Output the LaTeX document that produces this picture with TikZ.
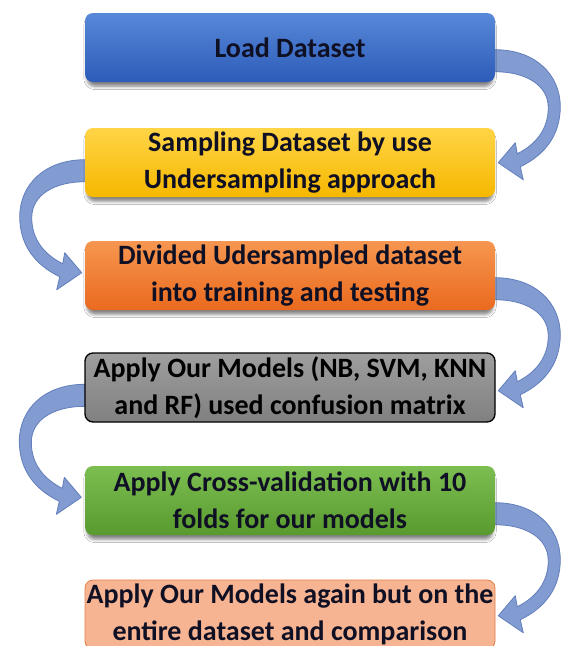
\documentclass[tikz,border=0pt]{standalone}
\usepackage{fontspec}
\setmainfont{Carlito}
\usetikzlibrary{shadows.blur}
\pgfdeclarelayer{background}
\pgfsetlayers{background,main}

\definecolor{txtdark}{RGB}{16,16,36}
\definecolor{arrowfill}{RGB}{130,156,210}
\definecolor{arrowline}{RGB}{98,126,188}

\tikzset{
  stepbox/.style={rounded corners=6pt, minimum width=307.5pt, minimum height=51.75pt,
    inner sep=0pt, align=center, text=txtdark,
    font=\fontsize{21}{27.5}\selectfont\bfseries},
  softshadow/.style={blur shadow={shadow xshift=0pt, shadow yshift=-3.5pt,
    shadow scale=0.99, shadow blur radius=2.5pt, shadow opacity=50}},
  bendarrow/.style={fill=arrowfill, draw=arrowline, line width=0.6pt, line join=round},
}

% curved block arrow, drawn in local pixel units from a box corner
\newcommand{\bendpath}{%
  (-6,37) -- (0,37) .. controls (40,37) and (65,62) .. (65,94)
  .. controls (65,122) and (50,142) .. (25,154) -- (28,167) -- (3,150)
  -- (20,130) -- (22,141) .. controls (40,132) and (53,117) .. (53,95)
  .. controls (53,72) and (30,59) .. (0,59) -- (-6,59) -- cycle}

\begin{document}
\begin{tikzpicture}[x=0.75pt, y=-0.75pt]
  \clip (0,0) rectangle (561,646);

  \node[stepbox, softshadow, top color={rgb,255:red,88;green,136;blue,216},
        bottom color={rgb,255:red,44;green,92;blue,184}] (b1) at (290,47.5)
        {Load Dataset};
  \node[stepbox, softshadow, top color={rgb,255:red,255;green,212;blue,70},
        bottom color={rgb,255:red,246;green,184;blue,0}] (b2) at (290,162.5)
        {Sampling Dataset by use\\Undersampling approach};
  \node[stepbox, softshadow, top color={rgb,255:red,246;green,150;blue,80},
        bottom color={rgb,255:red,234;green,106;blue,30}] (b3) at (290,275.5)
        {Divided Udersampled dataset\\into training and testing};
  \node[stepbox, draw=black, line width=1pt, text=black,
        top color={rgb,255:red,158;green,158;blue,158},
        bottom color={rgb,255:red,128;green,128;blue,128}] (b4) at (290,387.5)
        {Apply Our Models (NB, SVM, KNN\\and RF) used confusion matrix};
  \node[stepbox, softshadow, top color={rgb,255:red,124;green,190;blue,80},
        bottom color={rgb,255:red,88;green,154;blue,46}] (b5) at (290,500.5)
        {Apply Cross-validation with 10\\folds for our models};
  \node[stepbox, draw={rgb,255:red,226;green,128;blue,72}, line width=0.6pt,
        fill={rgb,255:red,246;green,180;blue,146}] (b6) at (290,614.5)
        {Apply Our Models again but on the\\entire dataset and comparison};

  \begin{pgfonlayer}{background}
    \fill[white] (0,0) rectangle (561,646);
    % right-hand bends
    \begin{scope}[shift={(b1.north east)}]
      \path[bendarrow] \bendpath;
    \end{scope}
    \begin{scope}[shift={(b3.north east)}]
      \path[bendarrow] \bendpath;
    \end{scope}
    \begin{scope}[shift={(b5.north east)}]
      \path[bendarrow] \bendpath;
    \end{scope}
    % left-hand bends, mirrored and lifted a little
    \begin{scope}[shift={(b2.north west)}, xscale=-1, yshift=3.75pt]
      \path[bendarrow] \bendpath;
    \end{scope}
    \begin{scope}[shift={(b4.north west)}, xscale=-1, yshift=3.75pt]
      \path[bendarrow] \bendpath;
    \end{scope}
  \end{pgfonlayer}
\end{tikzpicture}
\end{document}
